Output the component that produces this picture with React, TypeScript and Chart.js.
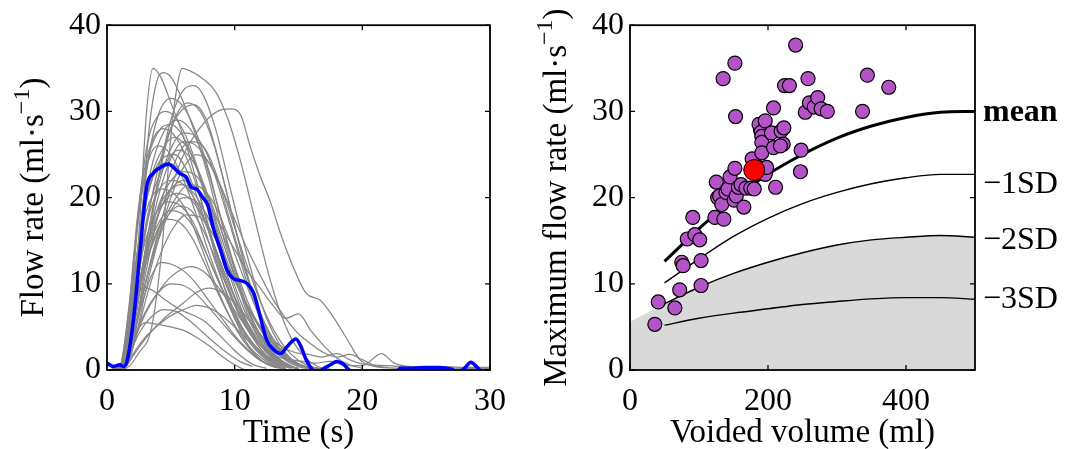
import React, { useEffect, useRef } from "react";
import { Chart, registerables } from "chart.js";

Chart.register(...registerables);

const FONT = '"Liberation Serif", "Times New Roman", Times, serif';

// ---------- Left panel data ----------
const TIME_TICKS = [0, 10, 20, 30];
const FLOW_TICKS = [0, 10, 20, 30, 40];

// highlighted flow curve, pairs of [time s, flow ml/s]
const BLUE_FLOW = [
  0, 0.8, 0.5, 0.4, 1.0, 0.6, 1.3, 0.4, 1.6, 1.2, 2.1, 6.2, 2.6, 13.9, 3.1, 21.2, 3.6, 22.8,
  4.2, 23.5, 4.8, 23.9, 5.2, 23.5, 5.7, 22.8, 6.2, 22.4, 6.6, 21.2, 7.0, 21.0, 7.5, 20.0,
  7.9, 19.1, 8.3, 16.6, 8.9, 13.9, 9.4, 11.6, 9.9, 10.6, 10.4, 10.4, 11.0, 10.0, 11.5, 8.9,
  12.0, 6.2, 12.5, 3.5, 13.1, 2.3, 13.6, 1.9, 14.1, 2.7, 14.8, 3.6, 15.2, 2.7, 15.6, 1.2,
  16.1, 0.0, 16.5, -0.5, 16.9, 0.1, 17.5, 0.6, 18.0, 1.0, 18.5, 0.7, 18.9, 0.1, 19.5, -0.5,
  22.5, -0.5, 23.0, 0.2, 24.0, 0.2, 25.0, 0.3, 26.0, 0.3, 27.0, 0.1, 27.5, -0.3, 28.0, 0.2,
  28.5, 0.9, 29.0, 0.3, 29.4, -0.3, 30.0, -0.3,
];

// other flow curves, each as pairs of [time s, flow ml/s]
const GRAY_FLOWS: number[][] = [
  [0, 0, 1.2, 0.3, 2, 6, 2.6, 18, 3.1, 30, 3.6, 35, 4.2, 34, 5, 31, 6, 27, 7, 22, 8, 16, 9, 10.5, 10, 6, 11, 3, 12, 1.2, 13, 0.4, 14, 0.1],
  [0, 0, 1.3, 0.3, 2, 5, 2.7, 17, 3.3, 28, 3.9, 33.5, 4.4, 34.5, 5, 34, 6, 31, 7, 27, 8, 22, 9, 16, 10, 11, 11, 6.5, 12, 3.5, 13, 1.5, 14, 0.5, 15, 0.1],
  [0, 0, 1.5, 0.2, 2.5, 2, 3.5, 5, 4.3, 14, 5, 27, 5.5, 33, 5.9, 35, 6.5, 34.7, 7.5, 33.8, 8.5, 32.3, 9.5, 29, 10.5, 24, 11.5, 18, 12.5, 12, 13.5, 7, 14.5, 3.5, 15.5, 1.5, 16.5, 0.4, 17.5, 0.1],
  [0, 0, 1.2, 0.2, 2, 3, 3, 12, 4, 22, 5, 29, 6, 32.5, 6.8, 33, 7.5, 32, 8.5, 28, 9.5, 22, 10.5, 16, 11.5, 10.5, 12.5, 6, 13.5, 3, 14.5, 1.2, 15.5, 0.4, 16.5, 0.1],
  [0, 0, 1.3, 0.2, 2, 3, 3, 10, 4, 16, 5, 21, 6, 25, 7, 27.5, 8, 29.3, 9, 30.2, 9.8, 30.3, 10.5, 29.5, 11.2, 26, 12, 22.5, 12.8, 19.5, 13.6, 15.8, 14.6, 11.9, 15.6, 8.9, 16.7, 8.1, 17.7, 6.2, 19, 3.1, 19.8, 1.2, 21, 0.4, 23, 0.2, 25, 0.1],
  [0, 0, 1.1, 0.3, 1.8, 5, 2.5, 15, 3.2, 24, 4, 29.5, 5, 31.5, 6, 30.5, 7, 27.5, 8, 23, 9, 17, 10, 11.5, 11, 7, 12, 3.8, 13, 1.8, 14, 0.7, 15, 0.2],
  [0, 0, 1.2, 0.3, 2, 5, 3, 14, 4, 22, 5, 28, 6.3, 31, 7.3, 30, 8.3, 26.5, 9.3, 21, 10.3, 15, 11.3, 9.5, 12.3, 5.5, 13.3, 2.8, 14.3, 1.2, 15.3, 0.4],
  [0, 0, 1, 0.3, 1.8, 4, 2.6, 12, 3.5, 20, 4.5, 26, 5.5, 29.5, 6.8, 30.8, 7.8, 29, 8.8, 24, 9.8, 18, 10.8, 12, 11.8, 7, 12.8, 3.5, 13.8, 1.5, 15, 0.4, 16, 0.1],
  [0, 0, 1.1, 0.4, 1.8, 7, 2.5, 19, 3.2, 26.5, 4, 29.5, 4.6, 30, 5.5, 29, 6.5, 26, 7.5, 21.5, 8.5, 16.5, 9.5, 11.5, 10.5, 7.2, 11.5, 4, 12.5, 2, 13.5, 0.8, 14.5, 0.2],
  [0, 0, 1.2, 0.3, 1.9, 6, 2.6, 16, 3.4, 23, 4.4, 27.5, 5.5, 29, 6.5, 28, 7.5, 25, 8.5, 20, 9.5, 14.5, 10.5, 9.5, 11.5, 5.5, 12.5, 2.8, 13.5, 1.2, 14.5, 0.4],
  [0, 0, 1.1, 0.4, 1.8, 7, 2.5, 18, 3.3, 25, 4.2, 28, 5, 28.5, 6, 27, 7, 23.5, 8, 18.5, 9, 13, 10, 8.5, 11, 5, 12, 2.5, 13, 1, 14, 0.3],
  [0, 0, 1, 0.4, 1.7, 7, 2.4, 18, 3.2, 25, 4.4, 28, 5.4, 27, 6.4, 24, 7.4, 19.5, 8.4, 14.5, 9.4, 10, 10.4, 6.5, 11.4, 3.8, 12.4, 1.8, 13.4, 0.7, 14.4, 0.2],
  [0, 0, 1.3, 0.3, 2, 4, 2.8, 12, 3.8, 20, 4.8, 25, 6, 27.5, 7, 27, 8, 24.5, 9, 20, 10, 15, 11, 10, 12, 6, 13, 3.2, 14, 1.5, 15, 0.6, 16, 0.2],
  [0, 0, 1.2, 0.3, 1.9, 5.5, 2.6, 15, 3.4, 22, 4.3, 25.5, 5.2, 27, 6.2, 26, 7.2, 23, 8.2, 18.5, 9.2, 13.5, 10.2, 9, 11.2, 5.5, 12.2, 3, 13.2, 1.4, 14.2, 0.5],
  [0, 0, 1.3, 0.2, 2, 3.5, 3, 11, 4, 18, 5, 23, 6.5, 26.5, 7.5, 26, 8.5, 23, 9.5, 18, 10.5, 13, 11.5, 8.5, 12.5, 5, 13.5, 2.5, 14.5, 1, 15.5, 0.3],
  [0, 0, 1, 0.4, 1.7, 7, 2.4, 17, 3.1, 23.5, 4, 26, 5, 25, 6, 22, 7, 18, 8, 13.5, 9, 9.5, 10, 6, 11, 3.5, 12, 1.8, 13, 0.7, 14, 0.2],
  [0, 0, 1.2, 0.3, 1.9, 5, 2.7, 14, 3.6, 20.5, 4.6, 24, 5.6, 25.5, 6.6, 24.5, 7.6, 21.5, 8.6, 17, 9.6, 12.5, 10.6, 8.5, 11.6, 5.2, 12.6, 2.8, 13.6, 1.2, 14.6, 0.4],
  [0, 0, 1.4, 0.2, 2.2, 3.5, 3, 9, 4, 15, 5, 20, 6, 23.5, 7, 25, 8, 24, 9, 21, 10, 16.5, 11, 12, 12, 8, 13, 4.8, 14, 2.5, 15, 1.1, 16, 0.4, 17, 0.1],
  [0, 0, 1.1, 0.4, 1.8, 6, 2.5, 15, 3.3, 21, 4.5, 24, 5.5, 23.5, 6.5, 21, 7.5, 17, 8.5, 12.5, 9.5, 8.5, 10.5, 5.2, 11.5, 2.8, 12.5, 1.3, 13.5, 0.5],
  [0, 0, 1.2, 0.3, 2, 4.5, 2.8, 12, 3.8, 18, 4.8, 21.5, 6, 23, 7, 22.5, 8, 20, 9, 16, 10, 12, 11, 8, 12, 4.8, 13, 2.5, 14, 1.1, 15, 0.4],
  [0, 0, 1.1, 0.3, 1.8, 5, 2.6, 13, 3.5, 19, 5, 22, 6, 21.5, 7, 19.5, 8, 16, 9, 12, 10, 8.5, 11, 5.5, 12, 3.2, 13, 1.6, 14, 0.6, 15, 0.2],
  [0, 0, 1.3, 0.2, 2, 3.5, 3, 10, 4, 15.5, 5, 19, 6.5, 21.5, 7.5, 21, 8.5, 19, 9.5, 15.5, 10.5, 11.5, 11.5, 7.8, 12.5, 4.8, 13.5, 2.6, 14.5, 1.2, 15.5, 0.4, 16.5, 0.1],
  [0, 0, 1, 0.4, 1.7, 6, 2.4, 14, 3.2, 19, 4.2, 21, 5.2, 20.5, 6.2, 18.5, 7.2, 15, 8.2, 11, 9.2, 7.5, 10.2, 4.5, 11.2, 2.4, 12.2, 1, 13.2, 0.3],
  [0, 0, 1.2, 0.3, 1.9, 4.5, 2.7, 11.5, 3.6, 16.5, 4.5, 19.5, 5.4, 20.5, 6.4, 20, 7.4, 18, 8.4, 14.5, 9.4, 10.5, 10.4, 7, 11.4, 4.2, 12.4, 2.2, 13.4, 1, 14.4, 0.3],
  [0, 0, 1.3, 0.2, 2.1, 4, 3, 10, 4, 15, 5, 18.5, 6, 20, 7, 19.5, 8, 17.5, 9, 14, 10, 10.5, 11, 7.5, 12, 5, 13, 3, 14, 1.6, 15, 0.7, 16, 0.3, 17, 0.1],
  [0, 0, 1.1, 0.3, 1.8, 5, 2.6, 12.5, 3.6, 17.5, 4.8, 19.5, 5.8, 19, 6.8, 17, 7.8, 13.5, 8.8, 10, 9.8, 6.8, 10.8, 4.2, 11.8, 2.3, 12.8, 1.1, 13.8, 0.4],
  [0, 0, 1.2, 0.3, 2, 4.5, 2.8, 11, 3.8, 15.5, 4.8, 18, 5.6, 19, 6.6, 18.5, 7.6, 16, 8.6, 12.5, 9.6, 9, 10.6, 6, 11.6, 3.6, 12.6, 2, 13.6, 0.9, 14.6, 0.3],
  [0, 0, 1.1, 0.3, 1.9, 4.5, 2.7, 11, 3.7, 16, 5, 18.5, 6, 18, 7, 16, 8, 12.8, 9, 9.5, 10, 6.5, 11, 4, 12, 2.2, 13, 1, 14, 0.3],
  [0, 0, 1.3, 0.2, 2.2, 3.5, 3.2, 9, 4.2, 13.5, 5.2, 16.5, 6.2, 18, 7.2, 17.8, 8.2, 16, 9.2, 13, 10.2, 9.8, 11.2, 6.8, 12.2, 4.3, 13.2, 2.4, 14.2, 1.2, 15.2, 0.5, 16.2, 0.2],
  [0, 0, 1.1, 0.3, 1.9, 4.5, 2.7, 10.5, 3.6, 15, 4.6, 17.5, 5.6, 17.2, 6.6, 15.5, 7.6, 12.5, 8.6, 9.2, 9.6, 6.2, 10.6, 3.8, 11.6, 2, 12.6, 0.9, 13.6, 0.3],
  [0, 0, 1.1, 0.3, 1.9, 3.5, 2.8, 8, 3.5, 11, 4.2, 12.5, 5, 12.3, 6, 11.5, 7, 10, 8, 8, 9, 6, 10, 4, 11, 2.4, 12, 1.2, 13, 0.5, 14, 0.1],
  [0, 0, 1.2, 0.3, 2, 3, 3, 6.5, 4, 9, 5, 10.8, 6.5, 12, 7.5, 11.5, 8.5, 10, 9.5, 8, 10.5, 5.8, 11.5, 3.8, 12.5, 2.2, 13.5, 1.1, 14.5, 0.4],
  [0, 0, 1, 0.3, 1.8, 2.5, 2.6, 5.5, 3.6, 8.2, 5, 10, 6, 9.8, 7, 8.8, 8, 7.2, 9, 5.5, 10, 3.8, 11, 2.3, 12, 1.1, 13, 0.4],
  [0, 0, 1.3, 0.2, 2.2, 2, 3.2, 4, 4.5, 6, 6, 7.8, 7, 9, 8, 9.5, 9, 9, 10, 7.8, 11, 6, 12, 4.2, 13, 2.6, 14, 1.4, 15, 0.6, 16, 0.2],
  [0, 0, 1, 0.4, 1.6, 3.5, 2.2, 7.5, 2.8, 9.6, 3.5, 9.3, 4.5, 8.2, 5.5, 7.2, 6.5, 6.5, 7.5, 5.8, 8.5, 4.5, 9.5, 3, 10.5, 1.6, 11.5, 0.6, 12.5, 0.2],
  [0, 0, 1.2, 0.2, 2, 1.8, 3, 3.8, 4, 5.2, 5, 6.3, 6, 7, 7, 7.5, 8, 7.2, 9, 6.3, 10, 5, 11, 3.5, 12, 2.2, 13, 1.2, 14, 0.5],
  [0, 0, 1.1, 0.3, 1.8, 2, 2.6, 4.5, 3.5, 6.2, 4.4, 7, 5.4, 6.8, 6.4, 5.8, 7.4, 4.5, 8.4, 3.2, 9.4, 2, 10.4, 1, 11.4, 0.4],
  [0, 0, 1, 0.3, 1.6, 2.5, 2.3, 4.5, 3, 5.5, 4, 5.3, 5, 5, 6, 4.6, 7, 3.8, 8, 2.8, 9, 1.6, 10, 0.6, 10.8, 0],
  [0, 0, 1.2, 0.3, 2, 5, 2.8, 12, 3.8, 18, 5, 21, 6, 22, 7, 21, 8, 19, 9, 16.5, 10, 14, 11, 11.5, 12, 9.5, 13, 7.5, 14, 6, 15, 6.5, 16, 4.5, 17, 2.8, 18, 1.4, 19, 0.6, 20, 0.2],
  [0, 0, 1.2, 0.3, 2, 5, 3, 13, 4, 20, 5, 24.5, 6, 26.5, 7, 26, 8, 24, 9, 21, 10, 17.5, 11, 14, 12, 11, 13, 8.2, 14, 6, 15, 4.2, 16, 3, 17, 2, 18, 1.5, 19, 1.8, 20, 1.2, 21, 0.5, 22, 0.3],
  [0, 0, 1.1, 0.3, 1.8, 5, 2.5, 14, 3.3, 21, 4.3, 24.5, 5.3, 25, 6.3, 23, 7.3, 19, 8.3, 14.5, 9.3, 10, 10.3, 6.5, 11.3, 4, 12.3, 2.5, 13.3, 1.6, 14.3, 1.2, 15.3, 1, 16.3, 0.8, 17.5, 1, 18.5, 0.6, 20, 0.5, 21.5, 1.9, 22.5, 0.8, 24, 0.4, 26, 0.4, 28, 0.3, 30, 0.3],
  [0, 0, 1.2, 0.3, 2, 4, 2.8, 11, 3.8, 17, 4.8, 20.5, 5.8, 21.5, 6.8, 20.5, 7.8, 18, 8.8, 14.5, 9.8, 11, 10.8, 8, 11.8, 5.5, 12.8, 3.8, 13.8, 2.6, 14.8, 2, 15.8, 1.8, 16.8, 1.5, 18, 1.9, 19, 1.2, 20, 0.7, 22, 0.5, 24, 0.3, 26, 0.3, 28, 0.2, 30, 0.2],
];

// ---------- Right panel data ----------
const VOLUME_TICKS = [0, 200, 400];
const CURVE_VOLUMES = [50, 100, 150, 200, 250, 300, 350, 400, 450, 500];
const MEAN_CURVE = [12.6, 16.4, 19.8, 22.7, 25.0, 26.9, 28.3, 29.3, 29.9, 30.0];
const MINUS1SD_CURVE = [10.1, 12.9, 15.5, 17.6, 19.3, 20.6, 21.6, 22.3, 22.7, 22.7];
const MINUS2SD_CURVE = [7.7, 9.6, 11.2, 12.5, 13.6, 14.5, 15.1, 15.4, 15.6, 15.4];
const MINUS3SD_CURVE = [5.2, 6.0, 6.6, 7.1, 7.6, 7.95, 8.25, 8.4, 8.4, 8.2];
const SHADE_LEAD_VOLUME = [0];
const SHADE_LEAD_FLOW = [5.6];
const CURVE_LABELS = ["mean", "\u22121SD", "\u22122SD", "\u22123SD"];

const SAMPLE_VOLUMES = [
  36, 41, 65, 72, 103, 75, 77, 103, 83, 94, 101, 91, 123, 136, 125, 127, 130, 133, 139, 142,
  145, 152, 151, 154, 157, 161, 165, 168, 175, 180, 177, 185, 186, 189, 191, 187, 190, 191,
  191, 191, 196, 197, 196, 205, 208, 208, 211, 219, 223, 222, 224, 231, 240, 248, 247, 254,
  258, 260, 267, 272, 277, 286, 337, 344, 375, 135, 152, 153, 198, 218,
];
const SAMPLE_QMAX = [
  5.3, 7.9, 7.2, 9.3, 9.8, 12.5, 12.1, 12.7, 15.2, 15.7, 15.1, 17.7, 17.7, 17.5, 21.8, 20.0,
  20.2, 19.2, 20.6, 21.0, 22.4, 23.4, 19.7, 20.2, 21.2, 21.5, 18.9, 21.1, 21.1, 21.0, 24.5,
  23.1, 23.5, 27.9, 28.4, 28.5, 27.6, 27.1, 26.4, 25.2, 28.9, 23.1, 22.7, 27.5, 25.8, 30.4,
  21.2, 27.7, 28.1, 26.2, 33.0, 33.0, 37.7, 25.5, 23.0, 29.9, 33.8, 31.0, 30.5, 31.6, 30.3,
  30.0, 30.0, 34.2, 32.8, 33.8, 35.6, 29.4, 23.5, 26.0,
];
const PATIENT_VOLUME = [180];
const PATIENT_QMAX = [23.2];

// ---------- helpers ----------
const pairsToPoints = (flat: number[]) => {
  const pts: { x: number; y: number }[] = [];
  for (let i = 0; i < flat.length; i += 2) pts.push({ x: flat[i], y: flat[i + 1] });
  return pts;
};
const zip = (xs: number[], ys: number[]) => xs.map((x, i) => ({ x, y: ys[i] }));

const framePlugin = {
  id: "frame",
  afterDatasetsDraw(chart: any) {
    const { ctx, chartArea: a, scales } = chart;
    const tl = 5;
    ctx.save();
    ctx.strokeStyle = "#000";
    ctx.lineWidth = 1.3;
    ctx.beginPath();
    scales.x.ticks.forEach((t: any) => {
      const px = scales.x.getPixelForValue(t.value);
      ctx.moveTo(px, a.bottom);
      ctx.lineTo(px, a.bottom - tl);
      ctx.moveTo(px, a.top);
      ctx.lineTo(px, a.top + tl);
    });
    scales.y.ticks.forEach((t: any) => {
      const py = scales.y.getPixelForValue(t.value);
      ctx.moveTo(a.left, py);
      ctx.lineTo(a.left + tl, py);
      ctx.moveTo(a.right, py);
      ctx.lineTo(a.right - tl, py);
    });
    ctx.stroke();
    ctx.lineWidth = 1.8;
    ctx.strokeRect(a.left, a.top, a.right - a.left, a.bottom - a.top);
    ctx.restore();
  },
};

const TITLE_SIZE = 33;
const TICK_SIZE = 32;

const makeTitlePlugin = (xTitle: string, yMain: string) => ({
  id: "titles",
  afterDraw(chart: any) {
    const { ctx, chartArea: a } = chart;
    ctx.save();
    ctx.fillStyle = "#000";
    ctx.textBaseline = "alphabetic";
    ctx.font = `${TITLE_SIZE}px ${FONT}`;
    ctx.textAlign = "center";
    ctx.fillText(xTitle, (a.left + a.right) / 2, 442);

    // rotated y title with superscript
    const supSize = Math.round(TITLE_SIZE * 0.72);
    ctx.font = `${TITLE_SIZE}px ${FONT}`;
    const w1 = ctx.measureText(yMain).width;
    const w3 = ctx.measureText(")").width;
    ctx.font = `${supSize}px ${FONT}`;
    const sup = "\u22121";
    const w2 = ctx.measureText(sup).width;
    const total = w1 + w2 + w3;
    ctx.translate(a.left - 64, (a.top + a.bottom) / 2);
    ctx.rotate(-Math.PI / 2);
    ctx.textAlign = "left";
    const x0 = -total / 2;
    ctx.font = `${TITLE_SIZE}px ${FONT}`;
    ctx.fillText(yMain, x0, 0);
    ctx.font = `${supSize}px ${FONT}`;
    ctx.fillText(sup, x0 + w1, -TITLE_SIZE * 0.42);
    ctx.font = `${TITLE_SIZE}px ${FONT}`;
    ctx.fillText(")", x0 + w1 + w2, 0);
    ctx.restore();
  },
});

const curveLabelPlugin = {
  id: "curveLabels",
  afterDraw(chart: any) {
    const { ctx, chartArea: a } = chart;
    const ys = [113, 185, 241, 300];
    ctx.save();
    ctx.fillStyle = "#000";
    ctx.textAlign = "left";
    ctx.textBaseline = "middle";
    CURVE_LABELS.forEach((lab, i) => {
      ctx.font = `${i === 0 ? "bold " : ""}${TICK_SIZE}px ${FONT}`;
      ctx.fillText(lab, a.right + 8, ys[i]);
    });
    ctx.restore();
  },
};

const axisCommon = (ticksList: number[], min: number, max: number, isX: boolean, size: number) => ({
  type: "linear",
  min,
  max,
  afterBuildTicks: (s: any) => {
    s.ticks = ticksList.map((v) => ({ value: v }));
  },
  afterFit: (s: any) => {
    if (isX) s.height = 79;
    else s.width = size;
  },
  grid: { display: false, drawTicks: false },
  border: { display: false },
  ticks: {
    color: "#000",
    font: { family: FONT, size: TICK_SIZE },
    padding: isX ? 12 : 6,
    maxRotation: 0,
    autoSkip: false,
  },
});

function LeftChart() {
  const ref = useRef<HTMLCanvasElement>(null);
  useEffect(() => {
    const grayDatasets = GRAY_FLOWS.map((flat) => ({
      type: "line",
      data: pairsToPoints(flat),
      borderColor: "#878787",
      borderWidth: 1.25,
      pointRadius: 0,
      cubicInterpolationMode: "monotone",
      clip: 0,
    }));
    const chart = new Chart(ref.current as HTMLCanvasElement, {
      type: "line",
      data: {
        datasets: [
          {
            type: "line",
            data: pairsToPoints(BLUE_FLOW),
            borderColor: "#0000ff",
            borderWidth: 3.5,
            pointRadius: 0,
            cubicInterpolationMode: "monotone",
            clip: 0,
          },
          ...grayDatasets,
        ] as any,
      },
      options: {
        animation: false,
        responsive: false,
        maintainAspectRatio: false,
        layout: { padding: { top: 24, right: 40, left: 0, bottom: 0 } },
        plugins: { legend: { display: false }, tooltip: { enabled: false } },
        scales: {
          x: axisCommon(TIME_TICKS, 0, 30, true, 0),
          y: axisCommon(FLOW_TICKS, 0, 40, false, 107),
        } as any,
      },
      plugins: [framePlugin, makeTitlePlugin("Time (s)", "Flow rate (ml\u00b7s")],
    } as any);
    return () => chart.destroy();
  }, []);
  return <canvas ref={ref} width={530} height={449} style={{ position: "absolute", left: 0, top: 0 }} />;
}

function RightChart() {
  const ref = useRef<HTMLCanvasElement>(null);
  useEffect(() => {
    const lineDs = (ys: number[], w: number) => ({
      type: "line",
      data: zip(CURVE_VOLUMES, ys),
      borderColor: "#000",
      borderWidth: w,
      pointRadius: 0,
      cubicInterpolationMode: "monotone",
      fill: false,
    });
    const shade = [...zip(SHADE_LEAD_VOLUME, SHADE_LEAD_FLOW), ...zip(CURVE_VOLUMES, MINUS2SD_CURVE)];
    const chart = new Chart(ref.current as HTMLCanvasElement, {
      type: "line",
      data: {
        datasets: [
          {
            type: "scatter",
            data: zip(PATIENT_VOLUME, PATIENT_QMAX),
            backgroundColor: "#ff0000",
            borderColor: "#000",
            borderWidth: 1,
            pointRadius: 10.5,
          },
          {
            type: "scatter",
            data: zip(SAMPLE_VOLUMES, SAMPLE_QMAX),
            backgroundColor: "#b452c8",
            borderColor: "#000",
            borderWidth: 1.2,
            pointRadius: 7,
          },
          lineDs(MEAN_CURVE, 3),
          lineDs(MINUS1SD_CURVE, 1.4),
          lineDs(MINUS2SD_CURVE, 1.4),
          lineDs(MINUS3SD_CURVE, 1.4),
          {
            type: "line",
            data: shade,
            borderWidth: 0,
            borderColor: "rgba(0,0,0,0)",
            backgroundColor: "#d9d9d9",
            fill: "origin",
            pointRadius: 0,
            cubicInterpolationMode: "monotone",
          },
        ] as any,
      },
      options: {
        animation: false,
        responsive: false,
        maintainAspectRatio: false,
        layout: { padding: { top: 24, right: 91, left: 0, bottom: 0 } },
        plugins: { legend: { display: false }, tooltip: { enabled: false } },
        scales: {
          x: axisCommon(VOLUME_TICKS, 0, 500, true, 0),
          y: axisCommon(FLOW_TICKS, 0, 40, false, 100),
        } as any,
      },
      plugins: [framePlugin, curveLabelPlugin, makeTitlePlugin("Voided volume (ml)", "Maximum flow rate (ml\u00b7s")],
    } as any);
    return () => chart.destroy();
  }, []);
  return <canvas ref={ref} width={536} height={449} style={{ position: "absolute", left: 530, top: 0 }} />;
}

export default function App() {
  return (
    <div style={{ position: "absolute", left: 0, top: 0, width: 1066, height: 449, background: "#fff" }}>
      <LeftChart />
      <RightChart />
    </div>
  );
}
